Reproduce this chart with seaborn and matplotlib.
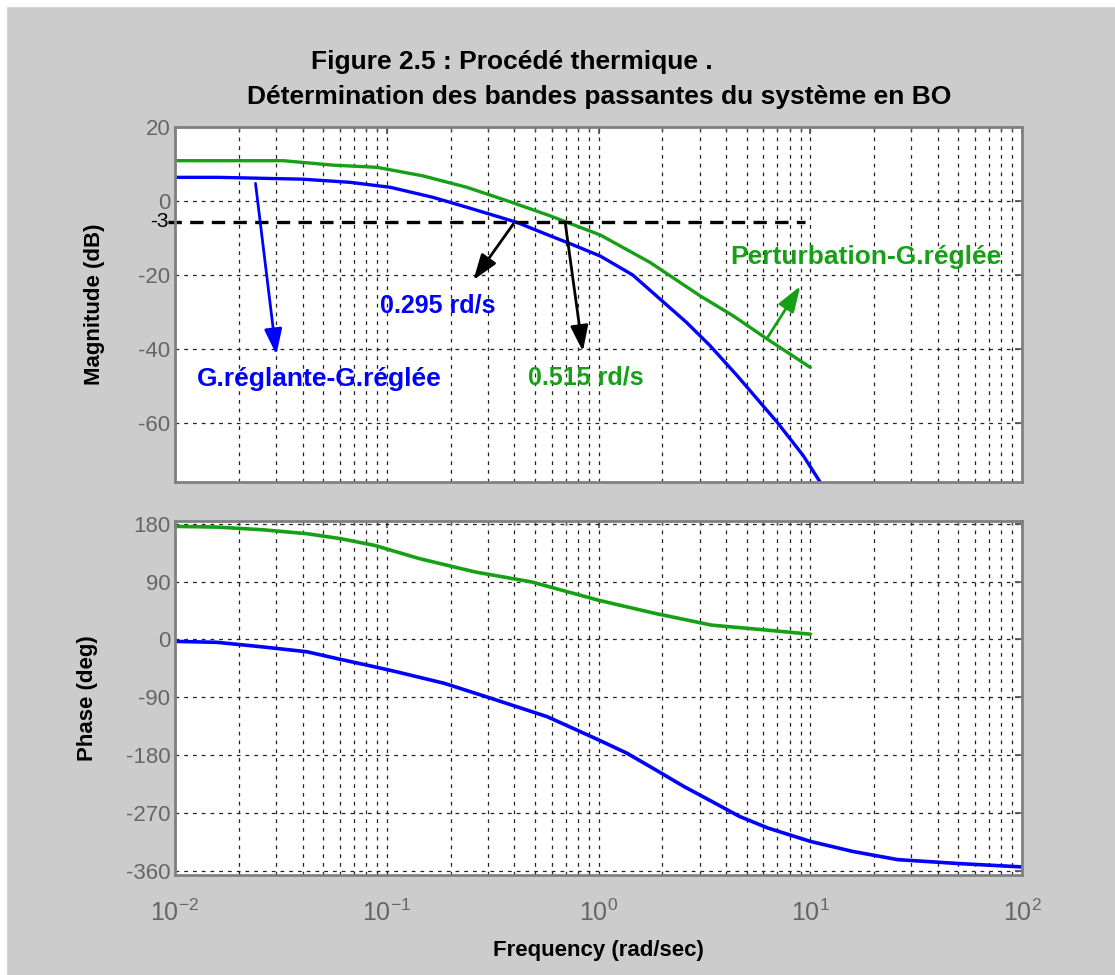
import matplotlib
matplotlib.use("Agg")
import matplotlib.pyplot as plt
import matplotlib.ticker as mticker
import numpy as np
import pandas as pd
import seaborn as sns

# Magnitude (dB)
mag_blue_w = [0.01, 0.016, 0.040, 0.067, 0.104, 0.165, 0.239, 0.343, 0.412, 0.59, 0.71, 1.02,
              1.45, 1.95, 2.6, 3.36, 4.51, 6.97, 9.25, 11.1, 13.7]
mag_blue_db = [6.4, 6.4, 5.9, 5.05, 3.7, 1.0, -1.7, -4.4, -5.8, -9.4, -11.2, -14.9,
               -20.0, -26.5, -32.8, -39.1, -47.2, -59.8, -68.8, -75.9, -82.0]
mag_green_w = [0.01, 0.0324, 0.0557, 0.090, 0.148, 0.239, 0.382, 0.59, 1.02, 1.75, 3.01, 4.31, 6.25, 10.0]
mag_green_db = [10.9, 10.9, 9.7, 9.1, 6.8, 3.7, -0.2, -4.0, -9.2, -16.6, -25.6, -31.0, -37.3, -45.0]

# Phase (deg)
ph_green_w = [0.01, 0.0158, 0.0258, 0.042, 0.0605, 0.0875, 0.1426, 0.262, 0.484, 1.0, 1.86, 3.43, 6.30, 10.0]
ph_green_deg = [175.7, 174.6, 170.5, 164.3, 156.6, 146.2, 125.6, 104.8, 89.3, 60.9, 40.3, 22.2, 14.4, 8.2]
ph_blue_w = [0.01, 0.0158, 0.0258, 0.042, 0.0605, 0.0875, 0.111, 0.187, 0.311, 0.572, 1.0, 1.36, 1.86,
             2.53, 3.43, 4.63, 6.30, 10.0, 15.8, 25.9, 51.0, 100.0]
ph_blue_deg = [-3.0, -4.5, -11.5, -19.2, -31.0, -42.5, -50.2, -68.2, -91.5, -120.0, -156.1, -176.7,
               -202.6, -228.5, -251.8, -275.0, -293.0, -313.8, -329.3, -342.2, -348.4, -353.5]

mag_ticks = [20, 0, -20, -40, -60]
phase_ticks = [180, 90, 0, -90, -180, -270, -360]
cut_level = -5.6  # where the "-3" dashed line sits in the picture

BLUE = "#0000ff"
GREEN = "#16a016"
BG = "#cccccc"

sns.set_theme(style="white")
plt.rcParams["font.family"] = ["Liberation Sans Narrow", "Liberation Sans", "DejaVu Sans"]
plt.rcParams["axes.unicode_minus"] = False
plt.rcParams["mathtext.fontset"] = "custom"
plt.rcParams["mathtext.rm"] = "Liberation Sans"

fig = plt.figure(figsize=(11.15, 9.75), dpi=100, facecolor=BG)
ax1 = fig.add_axes([0.157, 0.5056, 0.7596, 0.3641])
ax2 = fig.add_axes([0.157, 0.1026, 0.7596, 0.3630])

df_mb = pd.DataFrame({"w": mag_blue_w, "v": mag_blue_db})
df_mg = pd.DataFrame({"w": mag_green_w, "v": mag_green_db})
df_pb = pd.DataFrame({"w": ph_blue_w, "v": ph_blue_deg})
df_pg = pd.DataFrame({"w": ph_green_w, "v": ph_green_deg})

sns.lineplot(data=df_mg, x="w", y="v", ax=ax1, color=GREEN, linewidth=2.4, sort=False)
sns.lineplot(data=df_mb, x="w", y="v", ax=ax1, color=BLUE, linewidth=2.4, sort=False)
sns.lineplot(data=df_pg, x="w", y="v", ax=ax2, color=GREEN, linewidth=2.6, sort=False)
sns.lineplot(data=df_pb, x="w", y="v", ax=ax2, color=BLUE, linewidth=2.6, sort=False)

for ax in (ax1, ax2):
    ax.set_xscale("log")
    ax.set_xlim(0.01, 100)
    ax.set_facecolor("white")
    ax.grid(True, which="major", axis="both", color="#222222", linestyle=(0, (3, 4)), linewidth=0.9)
    ax.grid(True, which="minor", axis="x", color="#222222", linestyle=(0, (3, 4)), linewidth=0.9)
    ax.xaxis.set_minor_locator(mticker.LogLocator(base=10, subs=np.arange(2, 10)))
    ax.tick_params(which="both", direction="in", top=True, right=True, colors="#555555",
                   labelcolor="#666666", labelsize=16)
    ax.tick_params(which="major", length=5)
    ax.tick_params(which="minor", length=3)
    for s in ax.spines.values():
        s.set_color("#808080")
        s.set_linewidth(2)
    ax.set_xlabel("")
    ax.set_ylabel("")

ax1.set_ylim(-76, 20)
ax1.set_yticks(mag_ticks)
ax1.xaxis.set_major_formatter(mticker.NullFormatter())
ax2.set_ylim(-366, 184)
ax2.set_yticks(phase_ticks)
ax2.xaxis.set_major_formatter(mticker.LogFormatterSciNotation())
ax2.tick_params(axis="x", pad=18, labelsize=18)

ax1.set_ylabel("Magnitude (dB)", fontsize=16, fontweight="bold", labelpad=24, color="black")
ax2.set_ylabel("Phase (deg)", fontsize=16, fontweight="bold", labelpad=20, color="black")
ax2.set_xlabel("Frequency (rad/sec)", fontsize=16, fontweight="bold", labelpad=10, color="black")

# -3 dB line and its label
ax1.plot([0.0093, 9.44], [cut_level, cut_level], color="black", linestyle=(0, (4, 2.5)),
         linewidth=2.4, clip_on=False)
ax1.text(0.0093, cut_level, "-3", ha="right", va="center", fontsize=15, color="black")

# annotations
arrow = dict(arrowstyle="-|>,head_length=1.3,head_width=0.45", linewidth=2)
ax1.annotate("", xy=(0.0302, -42.3), xytext=(0.0239, 5.5),
             arrowprops=dict(arrow, color=BLUE))
ax1.annotate("", xy=(0.252, -22.0), xytext=(0.403, -5.6),
             arrowprops=dict(arrow, color="black"))
ax1.annotate("", xy=(0.847, -41.4), xytext=(0.695, -5.6),
             arrowprops=dict(arrow, color="black"))
ax1.annotate("", xy=(9.12, -22.4), xytext=(6.22, -37.3),
             arrowprops=dict(arrow, color=GREEN))

ax1.text(0.0127, -48.1, "G.réglante-G.réglée", color=BLUE, fontsize=19, fontweight="bold",
         ha="left", va="center")
ax1.text(0.093, -28.3, "0.295 rd/s", color=BLUE, fontsize=18, fontweight="bold",
         ha="left", va="center")
ax1.text(0.465, -47.6, "0.515 rd/s", color=GREEN, fontsize=18, fontweight="bold",
         ha="left", va="center")
ax1.text(4.18, -15.2, "Perturbation-G.réglée", color=GREEN, fontsize=19, fontweight="bold",
         ha="left", va="center")

fig.text(512 / 1115, 1 - 62 / 975, "Figure 2.5 : Procédé thermique .", fontsize=19,
         fontweight="bold", ha="center", va="center", color="black")
fig.text(599 / 1115, 1 - 97 / 975, "Détermination des bandes passantes du système en BO", fontsize=19,
         fontweight="bold", ha="center", va="center", color="black")

# thin white border on the top and left edges
fig.patches.append(plt.Rectangle((0, 1 - 6 / 975), 1, 6 / 975, transform=fig.transFigure,
                                 color="white", zorder=0))
fig.patches.append(plt.Rectangle((0, 0), 6 / 1115, 1, transform=fig.transFigure,
                                 color="white", zorder=0))

fig.savefig("out.png", dpi=100, facecolor=BG)
